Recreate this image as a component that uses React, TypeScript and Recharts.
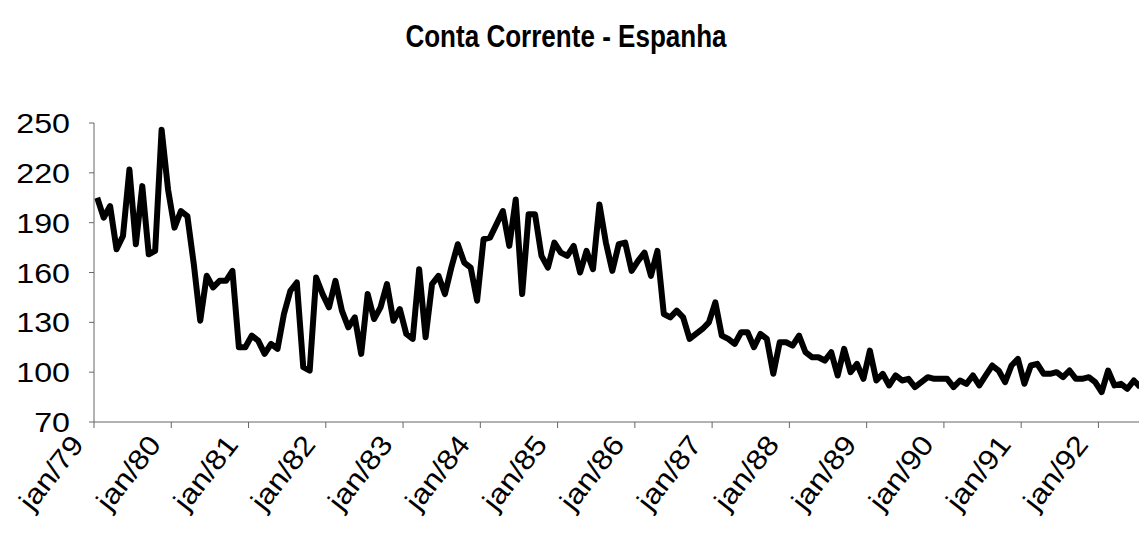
import React from 'react';
import { LineChart, Line, XAxis, YAxis } from 'recharts';

const MESES = ['jan', 'fev', 'mar', 'abr', 'mai', 'jun', 'jul', 'ago', 'set', 'out', 'nov', 'dez'];
const ANO_INICIAL = 1979;

// valores mensais, jan a dez de cada ano
const v1979 = [205, 193, 200, 174, 182, 222, 177, 212, 171, 173, 246, 210];
const v1980 = [187, 197, 194, 165, 131, 158, 151, 155, 155, 161, 115, 115];
const v1981 = [122, 119, 111, 117, 114, 135, 149, 154, 103, 101, 157, 147];
const v1982 = [139, 155, 137, 127, 133, 111, 147, 132, 139, 153, 131, 138];
const v1983 = [123, 120, 162, 121, 153, 158, 147, 163, 177, 166, 163, 143];
const v1984 = [180, 181, 189, 197, 176, 204, 147, 195, 195, 170, 163, 178];
const v1985 = [172, 170, 176, 160, 173, 162, 201, 178, 161, 177, 178, 161];
const v1986 = [167, 172, 158, 173, 135, 133, 137, 133, 120, 123, 126, 130];
const v1987 = [142, 122, 120, 117, 124, 124, 115, 123, 120, 99, 118, 118];
const v1988 = [116, 122, 112, 109, 109, 107, 112, 98, 114, 100, 105, 96];
const v1989 = [113, 95, 99, 92, 98, 95, 96, 91, 94, 97, 96, 96];
const v1990 = [96, 91, 95, 93, 98, 92, 98, 104, 101, 94, 104, 108];
const v1991 = [93, 104, 105, 99, 99, 100, 97, 101, 96, 96, 97, 94];
const v1992 = [88, 101, 92, 93, 90, 95, 91];

const ANOS = [v1979, v1980, v1981, v1982, v1983, v1984, v1985, v1986, v1987, v1988, v1989, v1990, v1991, v1992];

const Y_TICKS = [70, 100, 130, 160, 190, 220, 250];
const X_TICKS = ANOS.map((_, k) => k * 12); // jan de cada ano
const X_MAX = 162.3; // o gráfico original está cortado à direita

const rotulo = (m: number) => {
  const ano = ANO_INICIAL + Math.floor(m / 12);
  return `${MESES[m % 12]}/${String(ano).slice(2)}`;
};

const data = ANOS.flat().map((v, i) => ({ t: i + 0.5, mes: rotulo(i), valor: v }));

const FONT = '"Liberation Sans", Arial, sans-serif';

const XTick = (props: any) => {
  const { x, y, payload } = props;
  return (
    <text
      transform={`translate(${x - 9},${y + 15}) rotate(-52) scale(1.12,1)`}
      textAnchor="end"
      fontSize={28}
      fontFamily={FONT}
      fill="#000"
    >
      {rotulo(payload.value)}
    </text>
  );
};

const YTick = (props: any) => {
  const { x, y, payload } = props;
  return (
    <text
      transform={`translate(${x},${y}) scale(1.15,1)`}
      textAnchor="end"
      dy="0.36em"
      fontSize={28}
      fontFamily={FONT}
      fill="#000"
    >
      {payload.value}
    </text>
  );
};

export default function App() {
  return (
    <div style={{ position: 'absolute', left: 0, top: 0, width: 1139, height: 537, background: '#fff' }}>
      <div
        style={{
          position: 'absolute',
          top: 21,
          left: 0,
          width: 1132,
          textAlign: 'center',
          fontFamily: FONT,
          fontWeight: 'bold',
          fontSize: 28,
          transform: 'scale(0.93, 1.12)',
          transformOrigin: '50% 50%',
        }}
      >
        Conta Corrente - Espanha
      </div>
      <LineChart width={1139} height={537} data={data} margin={{ top: 123, right: 0, bottom: 0, left: 0 }}>
        <XAxis
          type="number"
          dataKey="t"
          domain={[0, X_MAX]}
          allowDataOverflow
          ticks={X_TICKS}
          interval={0}
          height={115}
          tick={<XTick />}
          tickSize={6}
          stroke="#666"
        />
        <YAxis
          type="number"
          domain={[70, 250]}
          ticks={Y_TICKS}
          interval={0}
          width={94}
          tickSize={5}
          tickMargin={19}
          stroke="#666"
          tick={<YTick />}
        />
        <Line
          type="linear"
          dataKey="valor"
          stroke="#000"
          strokeWidth={6}
          strokeLinejoin="round"
          dot={false}
          isAnimationActive={false}
        />
      </LineChart>
    </div>
  );
}
